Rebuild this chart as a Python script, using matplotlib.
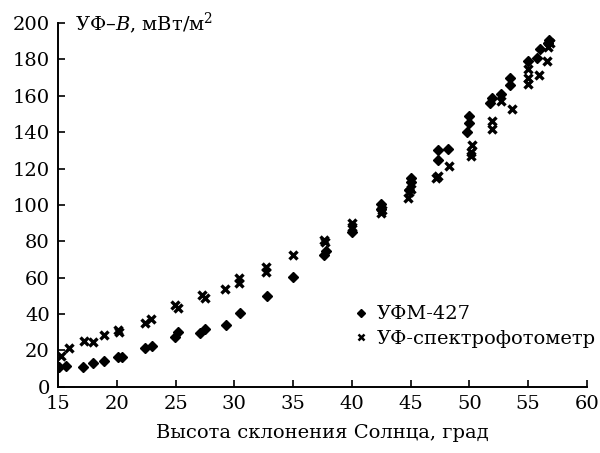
import numpy as np
import matplotlib.pyplot as plt

plt.rcParams["font.family"] = ["DejaVu Serif"]
plt.rcParams["mathtext.fontset"] = "dejavuserif"

# УФМ-427
ufm_x = [15.1, 15.7, 17.1, 18.0, 18.9, 20.1, 20.4, 22.4, 23.0, 24.95, 25.2, 27.1, 27.5,
         29.3, 30.5, 32.8, 35.0, 37.6, 37.8, 40.0, 42.5, 42.5, 44.9, 45.0, 45.0,
         47.3, 47.3, 48.2, 49.8, 50.0, 50.0, 51.8, 51.9, 52.7, 53.5, 53.5,
         55.0, 55.8, 56.0, 56.7, 56.8]
ufm_y = [10.7, 11.4, 10.7, 12.9, 14.1, 16.5, 16.5, 21.5, 22.4, 27.5, 29.9, 29.4, 31.8,
         34.0, 40.7, 50.0, 60.5, 72.5, 74.9, 85.3, 98.0, 100.5, 108.0, 112.8, 115.0,
         125.0, 130.0, 131.0, 140.0, 145.0, 149.0, 156.0, 159.0, 161.0, 166.0, 170.0,
         179.4, 181.0, 185.7, 189.0, 190.8]

# УФ-спектрофотометр
spec_x = [15.2, 15.9, 17.2, 18.0, 18.9, 20.1, 20.2, 22.4, 22.9, 24.95, 25.2, 27.2, 27.5,
          29.2, 30.4, 30.4, 32.7, 32.7, 35.0, 37.6, 37.7, 40.0, 40.0, 42.5, 42.6,
          44.8, 44.9, 45.0, 47.2, 47.3, 48.3, 50.1, 50.1, 50.2, 51.9, 51.9, 52.7, 53.6,
          55.0, 55.0, 55.0, 55.9, 56.6, 56.7, 56.9]
spec_y = [16.9, 21.1, 25.1, 24.4, 28.4, 31.2, 30.3, 34.9, 37.3, 45.0, 43.1, 50.5, 48.6,
          54.0, 57.3, 59.6, 63.3, 65.7, 72.5, 80.7, 79.5, 88.0, 90.0, 95.8, 97.0,
          104.0, 107.0, 109.0, 114.7, 116.0, 121.5, 127.0, 129.0, 133.0, 142.0, 146.0, 157.0, 153.0,
          166.4, 170.0, 174.7, 171.5, 179.4, 187.0, 189.0]

fig = plt.figure(figsize=(6, 4.53), dpi=100)
ax = fig.add_axes([0.097, 0.146, 0.881, 0.803])

ax.plot(ufm_x, ufm_y, linestyle="none", marker="D", markersize=5,
        color="black", label="УФМ-427")
ax.plot(spec_x, spec_y, linestyle="none", marker="x", markersize=5.5,
        markeredgewidth=2.4, color="black", label="УФ-спектрофотометр")

ax.set_xlim(15, 60)
ax.set_ylim(0, 200)
ax.set_xticks(np.arange(15, 61, 5))
ax.set_yticks(np.arange(0, 201, 20))
ax.spines["top"].set_visible(False)
ax.spines["right"].set_visible(False)
for s in ["left", "bottom"]:
    ax.spines[s].set_linewidth(1.4)
ax.tick_params(direction="in", length=5, width=1.2, labelsize=14, pad=6)

ax.set_xlabel("Высота склонения Солнца, град", fontsize=14, labelpad=8)
fig.text(0.125, 0.948, "УФ–$B$, мВт/м$^2$", fontsize=14, va="center", ha="left")

leg = ax.legend(loc="lower right", bbox_to_anchor=(1.05, 0.058), frameon=False,
                fontsize=14, markerscale=0.75, handlelength=0.8, handletextpad=0.4,
                labelspacing=0.35)
# thinner cross in legend
leg.legend_handles[1].set_markeredgewidth(1.8)

fig.savefig("out.png", dpi=100)
